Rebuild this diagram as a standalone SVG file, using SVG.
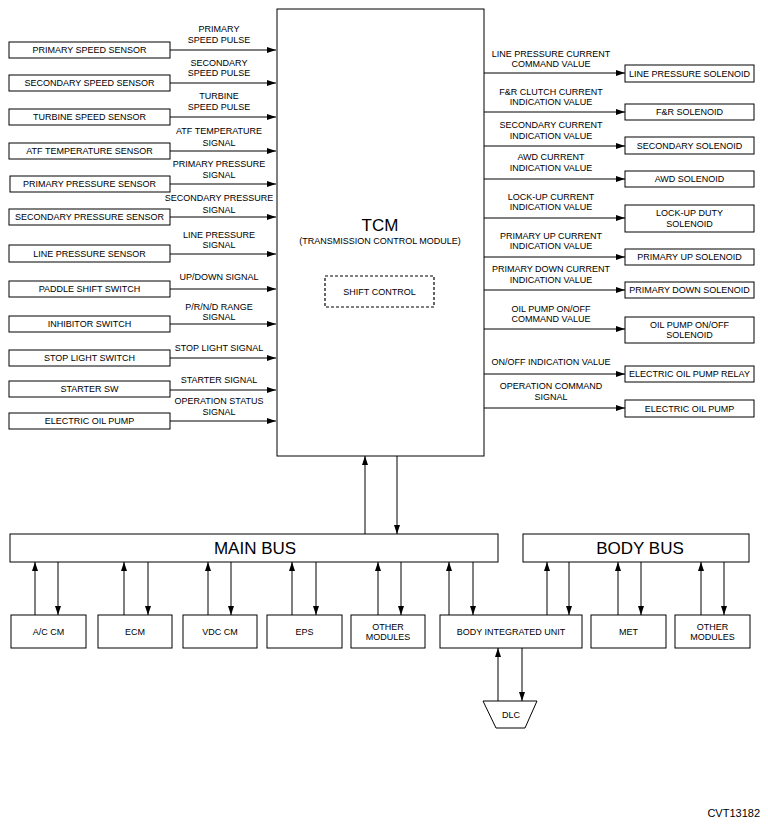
<svg xmlns="http://www.w3.org/2000/svg" width="768" height="824" viewBox="0 0 768 824">
<style>
rect.b{fill:#fff;stroke:#000;stroke-width:1}
.t{font-family:"Liberation Sans",Arial,sans-serif;font-size:9px;fill:#000;text-anchor:middle}
.big{font-family:"Liberation Sans",Arial,sans-serif;font-size:17px;fill:#000;text-anchor:middle}
.c line{stroke:#000;stroke-width:1;marker-end:url(#ah)}
</style>
<defs>
<marker id="ah" viewBox="0 0 9 6" markerWidth="9" markerHeight="6" refX="9" refY="3" orient="auto" markerUnits="userSpaceOnUse">
<path d="M0,0 L9,3 L0,6 z" fill="#000"/>
</marker>
</defs>
<rect width="768" height="824" fill="#fff"/>

<g id="tcm">
<rect class="b" x="277" y="9" width="207" height="447"/>
<text class="big" x="380" y="231">TCM</text>
<text class="t" x="380" y="244">(TRANSMISSION CONTROL MODULE)</text>
</g>
<g id="shift-control">
<rect x="325" y="276" width="109" height="31" fill="none" stroke="#000" stroke-width="1.2" stroke-dasharray="3,2"/>
<text class="t" x="379.5" y="295">SHIFT CONTROL</text>
</g>

<g id="in-primary-speed"><rect class="b" x="9" y="42" width="161" height="16"/><text class="t" x="89.5" y="53.2">PRIMARY SPEED SENSOR</text></g>
<g id="in-secondary-speed"><rect class="b" x="9" y="75" width="161" height="16"/><text class="t" x="89.5" y="86.2">SECONDARY SPEED SENSOR</text></g>
<g id="in-turbine-speed"><rect class="b" x="9" y="109" width="161" height="16"/><text class="t" x="89.5" y="120.2">TURBINE SPEED SENSOR</text></g>
<g id="in-atf-temp"><rect class="b" x="9" y="143" width="161" height="16"/><text class="t" x="89.5" y="154.2">ATF TEMPERATURE SENSOR</text></g>
<g id="in-primary-pressure"><rect class="b" x="10" y="176" width="160" height="16"/><text class="t" x="89.5" y="187.2">PRIMARY PRESSURE SENSOR</text></g>
<g id="in-secondary-pressure"><rect class="b" x="9" y="209" width="161" height="16"/><text class="t" x="89.5" y="220.2">SECONDARY PRESSURE SENSOR</text></g>
<g id="in-line-pressure"><rect class="b" x="9" y="245" width="161" height="17"/><text class="t" x="89.5" y="256.7">LINE PRESSURE SENSOR</text></g>
<g id="in-paddle"><rect class="b" x="9" y="281" width="161" height="16"/><text class="t" x="89.5" y="292.2">PADDLE SHIFT SWITCH</text></g>
<g id="in-inhibitor"><rect class="b" x="9" y="316" width="161" height="16"/><text class="t" x="89.5" y="327.2">INHIBITOR SWITCH</text></g>
<g id="in-stop-light"><rect class="b" x="9" y="350" width="161" height="16"/><text class="t" x="89.5" y="361.2">STOP LIGHT SWITCH</text></g>
<g id="in-starter"><rect class="b" x="9" y="381" width="161" height="16"/><text class="t" x="89.5" y="392.2">STARTER SW</text></g>
<g id="in-eop"><rect class="b" x="9" y="413" width="161" height="16"/><text class="t" x="89.5" y="424.2">ELECTRIC OIL PUMP</text></g>

<g id="out-line-pressure"><rect class="b" x="625" y="65" width="129" height="17"/><text class="t" x="689.5" y="76.7">LINE PRESSURE SOLENOID</text></g>
<g id="out-fr"><rect class="b" x="625" y="104" width="129" height="16"/><text class="t" x="689.5" y="115.2">F&amp;R SOLENOID</text></g>
<g id="out-secondary"><rect class="b" x="625" y="137" width="129" height="17"/><text class="t" x="689.5" y="148.7">SECONDARY SOLENOID</text></g>
<g id="out-awd"><rect class="b" x="625" y="171" width="129" height="16"/><text class="t" x="689.5" y="182.2">AWD SOLENOID</text></g>
<g id="out-lockup"><rect class="b" x="625" y="205" width="129" height="27"/><text class="t" x="689.5" y="216.2">LOCK-UP DUTY</text><text class="t" x="689.5" y="226.7">SOLENOID</text></g>
<g id="out-primary-up"><rect class="b" x="625" y="249" width="129" height="16"/><text class="t" x="689.5" y="260.2">PRIMARY UP SOLENOID</text></g>
<g id="out-primary-down"><rect class="b" x="625" y="282" width="129" height="16"/><text class="t" x="689.5" y="293.2">PRIMARY DOWN SOLENOID</text></g>
<g id="out-oil-pump"><rect class="b" x="625" y="317" width="129" height="26"/><text class="t" x="689.5" y="327.7">OIL PUMP ON/OFF</text><text class="t" x="689.5" y="338.2">SOLENOID</text></g>
<g id="out-eop-relay"><rect class="b" x="625" y="366" width="129" height="16"/><text class="t" x="689.5" y="377.2">ELECTRIC OIL PUMP RELAY</text></g>
<g id="out-eop"><rect class="b" x="625" y="400" width="129" height="17"/><text class="t" x="689.5" y="411.7">ELECTRIC OIL PUMP</text></g>

<g id="main-bus"><rect class="b" x="10" y="534" width="488" height="28"/><text class="big" x="255" y="554">MAIN BUS</text></g>
<g id="body-bus"><rect class="b" x="523" y="534" width="226" height="28"/><text class="big" x="640" y="554">BODY BUS</text></g>

<g id="m-ac"><rect class="b" x="11" y="615" width="75" height="33"/><text class="t" x="48.5" y="635">A/C CM</text></g>
<g id="m-ecm"><rect class="b" x="98" y="615" width="74" height="33"/><text class="t" x="135" y="635">ECM</text></g>
<g id="m-vdc"><rect class="b" x="183" y="615" width="74" height="33"/><text class="t" x="220" y="635">VDC CM</text></g>
<g id="m-eps"><rect class="b" x="267" y="615" width="75" height="33"/><text class="t" x="304.5" y="635">EPS</text></g>
<g id="m-other1"><rect class="b" x="351" y="615" width="74" height="33"/><text class="t" x="388" y="629.5">OTHER</text><text class="t" x="388" y="640">MODULES</text></g>
<g id="m-biu"><rect class="b" x="440" y="615" width="142" height="33"/><text class="t" x="511" y="635">BODY INTEGRATED UNIT</text></g>
<g id="m-met"><rect class="b" x="591" y="615" width="75" height="33"/><text class="t" x="628.5" y="635">MET</text></g>
<g id="m-other2"><rect class="b" x="675" y="615" width="75" height="33"/><text class="t" x="712.5" y="629.5">OTHER</text><text class="t" x="712.5" y="640">MODULES</text></g>

<g id="dlc"><polygon points="483,701 537,701 525,728 496,728" fill="#fff" stroke="#000" stroke-width="1"/><text class="t" x="511" y="718">DLC</text></g>

<g id="connectors" class="c">
<line x1="170" y1="50" x2="276" y2="50"/>
<line x1="170" y1="83" x2="276" y2="83"/>
<line x1="170" y1="117" x2="276" y2="117"/>
<line x1="170" y1="151" x2="276" y2="151"/>
<line x1="170" y1="184" x2="276" y2="184"/>
<line x1="170" y1="217" x2="276" y2="217"/>
<line x1="170" y1="254" x2="276" y2="254"/>
<line x1="170" y1="289" x2="276" y2="289"/>
<line x1="170" y1="324" x2="276" y2="324"/>
<line x1="170" y1="358" x2="276" y2="358"/>
<line x1="170" y1="390" x2="276" y2="390"/>
<line x1="170" y1="421" x2="276" y2="421"/>

<line x1="484" y1="73" x2="625" y2="73"/>
<line x1="484" y1="112" x2="625" y2="112"/>
<line x1="484" y1="146" x2="625" y2="146"/>
<line x1="484" y1="179" x2="625" y2="179"/>
<line x1="484" y1="218" x2="625" y2="218"/>
<line x1="484" y1="257" x2="625" y2="257"/>
<line x1="484" y1="290" x2="625" y2="290"/>
<line x1="484" y1="329" x2="625" y2="329"/>
<line x1="484" y1="374" x2="625" y2="374"/>
<line x1="484" y1="408" x2="625" y2="408"/>

<line x1="365" y1="534" x2="365" y2="456"/>
<line x1="397" y1="456" x2="397" y2="534"/>

<line x1="35" y1="615" x2="35" y2="562"/>
<line x1="58" y1="562" x2="58" y2="615"/>
<line x1="124" y1="615" x2="124" y2="562"/>
<line x1="148" y1="562" x2="148" y2="615"/>
<line x1="208" y1="615" x2="208" y2="562"/>
<line x1="231" y1="562" x2="231" y2="615"/>
<line x1="292" y1="615" x2="292" y2="562"/>
<line x1="316" y1="562" x2="316" y2="615"/>
<line x1="378" y1="615" x2="378" y2="562"/>
<line x1="401" y1="562" x2="401" y2="615"/>
<line x1="449" y1="615" x2="449" y2="562"/>
<line x1="473" y1="562" x2="473" y2="615"/>
<line x1="547" y1="615" x2="547" y2="562"/>
<line x1="569" y1="562" x2="569" y2="615"/>
<line x1="618" y1="615" x2="618" y2="562"/>
<line x1="641" y1="562" x2="641" y2="615"/>
<line x1="701" y1="615" x2="701" y2="562"/>
<line x1="724" y1="562" x2="724" y2="615"/>

<line x1="498" y1="701" x2="498" y2="648"/>
<line x1="522" y1="648" x2="522" y2="701"/>
</g>

<g id="labels">
<text class="t" x="219" y="32">PRIMARY</text><text class="t" x="219" y="43">SPEED PULSE</text>
<text class="t" x="219" y="66">SECONDARY</text><text class="t" x="219" y="76">SPEED PULSE</text>
<text class="t" x="219" y="99">TURBINE</text><text class="t" x="219" y="110">SPEED PULSE</text>
<text class="t" x="219" y="134">ATF TEMPERATURE</text><text class="t" x="219" y="146">SIGNAL</text>
<text class="t" x="219" y="167">PRIMARY PRESSURE</text><text class="t" x="219" y="178">SIGNAL</text>
<text class="t" x="219" y="201">SECONDARY PRESSURE</text><text class="t" x="219" y="213">SIGNAL</text>
<text class="t" x="219" y="238">LINE PRESSURE</text><text class="t" x="219" y="248">SIGNAL</text>
<text class="t" x="219" y="280">UP/DOWN SIGNAL</text>
<text class="t" x="219" y="310">P/R/N/D RANGE</text><text class="t" x="219" y="320">SIGNAL</text>
<text class="t" x="219" y="351">STOP LIGHT SIGNAL</text>
<text class="t" x="219" y="383">STARTER SIGNAL</text>
<text class="t" x="219" y="404">OPERATION STATUS</text><text class="t" x="219" y="415">SIGNAL</text>

<text class="t" x="551" y="57">LINE PRESSURE CURRENT</text><text class="t" x="551" y="67">COMMAND VALUE</text>
<text class="t" x="551" y="95">F&amp;R CLUTCH CURRENT</text><text class="t" x="551" y="105">INDICATION VALUE</text>
<text class="t" x="551" y="128">SECONDARY CURRENT</text><text class="t" x="551" y="139">INDICATION VALUE</text>
<text class="t" x="551" y="160">AWD CURRENT</text><text class="t" x="551" y="171">INDICATION VALUE</text>
<text class="t" x="551" y="200">LOCK-UP CURRENT</text><text class="t" x="551" y="210">INDICATION VALUE</text>
<text class="t" x="551" y="239">PRIMARY UP CURRENT</text><text class="t" x="551" y="249">INDICATION VALUE</text>
<text class="t" x="551" y="272">PRIMARY DOWN CURRENT</text><text class="t" x="551" y="283">INDICATION VALUE</text>
<text class="t" x="551" y="312">OIL PUMP ON/OFF</text><text class="t" x="551" y="322">COMMAND VALUE</text>
<text class="t" x="551" y="365">ON/OFF INDICATION VALUE</text>
<text class="t" x="551" y="389">OPERATION COMMAND</text><text class="t" x="551" y="400">SIGNAL</text>
</g>

<text x="760" y="817" font-family="Liberation Sans,Arial,sans-serif" font-size="11" text-anchor="end" fill="#000">CVT13182</text>
</svg>
